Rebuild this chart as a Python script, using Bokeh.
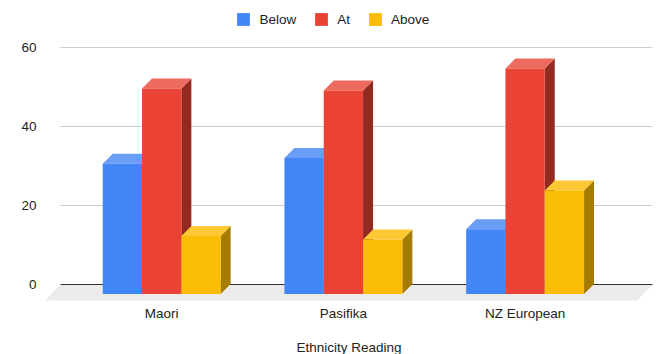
from bokeh.embed import file_html
from bokeh.models import FixedTicker, Legend, LegendItem, Range1d
from bokeh.plotting import figure
from bokeh.resources import INLINE

categories = ["Maori", "Pasifika", "NZ European"]
below = [33.0, 34.4, 16.4]
at = [52.0, 51.5, 57.1]
above = [14.7, 13.8, 26.2]
y_ticks = [0, 20, 40, 60]
axis_title = "Ethnicity Reading"

FONT = "Liberation Sans"
TEXT_SIZE = "13.5px"

# Scales: one x unit is a category step, y is in chart units.
PX_X = 181.7
PX_Y = 3.95
FRAME_L, FRAME_R, FRAME_B = 44, 653, 302
ZERO_PX_X, ZERO_PX_Y = 161.2, 284.0


def dx(px):
    return px / PX_X


def dy(px):
    return px / PX_Y


p = figure(
    width=667,
    height=354,
    frame_width=FRAME_R - FRAME_L,
    frame_height=FRAME_B,
    output_backend="svg",
    toolbar_location=None,
    x_range=Range1d(dx(FRAME_L - ZERO_PX_X), dx(FRAME_R - ZERO_PX_X)),
    y_range=Range1d(dy(ZERO_PX_Y - FRAME_B), dy(ZERO_PX_Y)),
    min_border_left=FRAME_L,
    min_border_right=667 - FRAME_R,
    min_border_top=0,
    min_border_bottom=354 - FRAME_B,
    outline_line_color=None,
    background_fill_color="white",
    border_fill_color="white",
)
p.grid.visible = False

# Back wall gridlines and the tilted floor.
wall_left, wall_right = dx(60 - ZERO_PX_X), dx(652 - ZERO_PX_X)
floor_depth = dy(16)
floor_shift = dx(15.3)
p.patch(
    [wall_left, wall_right, wall_right - floor_shift, wall_left - floor_shift],
    [0, 0, -floor_depth, -floor_depth],
    fill_color="#ebebeb",
    line_color=None,
)
upper_ticks = [t for t in y_ticks if t != 0]
p.segment(
    [wall_left] * len(upper_ticks), upper_ticks,
    [wall_right] * len(upper_ticks), upper_ticks,
    line_color="#cccccc", line_width=1,
)
p.segment([wall_left], [0], [wall_right], [0], line_color="#333333", line_width=1)

# Extruded bars: front face plus a lighter top and a darker side.
BAR_W = dx(39.3)
DEPTH_X = dx(10)
DEPTH_Y = dy(10)
BASE = -dy(9.5)
series = [
    ("Below", below, "#4285f4", "#6a9ef6", "#2d5cab", -1),
    ("At", at, "#ea4335", "#ec6a5e", "#932a21", 0),
    ("Above", above, "#fbbc04", "#fcc934", "#a67c00", 1),
]
legend_items = []
for g in range(len(categories)):
    for name, values, front, top, side, slot in series:
        left = g + slot * BAR_W
        x0, x1 = left - BAR_W / 2, left + BAR_W / 2
        h = values[g] + BASE
        p.patch(
            [x1, x1 + DEPTH_X, x1 + DEPTH_X, x1],
            [BASE, BASE + DEPTH_Y, h + DEPTH_Y, h],
            fill_color=side, line_color=None,
        )
        p.patch(
            [x0, x1, x1 + DEPTH_X, x0 + DEPTH_X],
            [h, h, h + DEPTH_Y, h + DEPTH_Y],
            fill_color=top, line_color=None,
        )
        face = p.quad(left=x0, right=x1, bottom=BASE, top=h, fill_color=front, line_color=None)
        if g == 0:
            legend_items.append(LegendItem(label=name, renderers=[face]))

legend = Legend(
    items=legend_items,
    orientation="horizontal",
    location=(191.4, 275),
    margin=0,
    padding=0,
    spacing=17,
    glyph_width=16,
    glyph_height=16,
    label_standoff=8,
    label_width=10,
    label_text_font=FONT,
    label_text_font_size=TEXT_SIZE,
    label_text_color="#222222",
    border_line_color=None,
    background_fill_alpha=0,
)
p.add_layout(legend, "center")

p.yaxis.ticker = FixedTicker(ticks=y_ticks)
p.yaxis.axis_line_color = None
p.yaxis.major_tick_line_color = None
p.yaxis.minor_tick_line_color = None
p.yaxis.major_label_standoff = 2
p.yaxis.major_label_text_font = FONT
p.yaxis.major_label_text_font_size = TEXT_SIZE
p.yaxis.major_label_text_color = "#222222"

p.xaxis.ticker = FixedTicker(ticks=list(range(len(categories))))
p.xaxis.major_label_overrides = {i: c for i, c in enumerate(categories)}
p.xaxis.axis_line_color = None
p.xaxis.major_tick_line_color = None
p.xaxis.minor_tick_line_color = None
p.xaxis.major_label_standoff = -3
p.xaxis.major_label_text_font = FONT
p.xaxis.major_label_text_font_size = TEXT_SIZE
p.xaxis.major_label_text_color = "#222222"
p.xaxis.axis_label = axis_title
p.xaxis.axis_label_standoff = 16
p.xaxis.axis_label_text_font = FONT
p.xaxis.axis_label_text_font_style = "normal"
p.xaxis.axis_label_text_font_size = TEXT_SIZE
p.xaxis.axis_label_text_color = "#222222"

open("out.html", "w").write(file_html(p, INLINE))
